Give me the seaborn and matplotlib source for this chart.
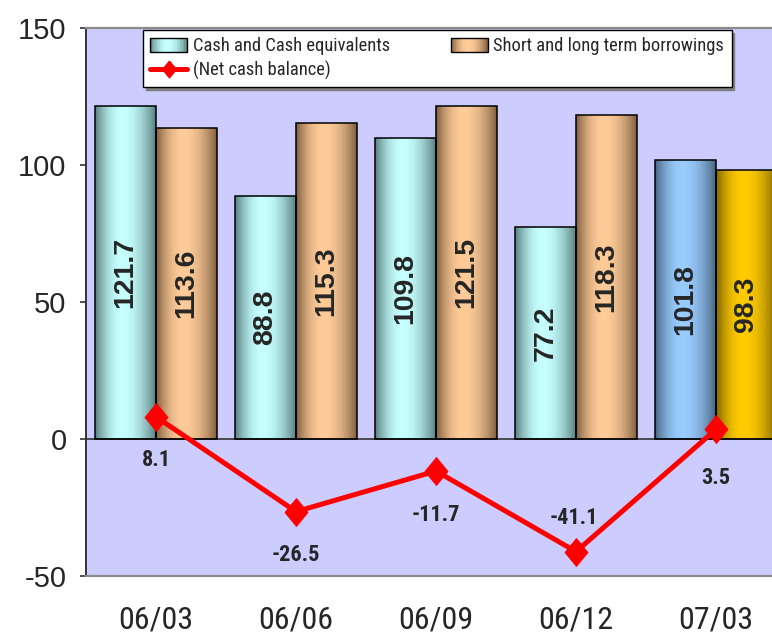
import numpy as np
import pandas as pd
import matplotlib
matplotlib.use("Agg")
import matplotlib.pyplot as plt
import seaborn as sns
from matplotlib.patches import Rectangle
from matplotlib.lines import Line2D
from matplotlib.legend_handler import HandlerBase

# ---- data -------------------------------------------------------------
periods = ["06/03", "06/06", "06/09", "06/12", "07/03"]
cash = [121.7, 88.8, 109.8, 77.2, 101.8]
borrowings = [113.6, 115.3, 121.5, 118.3, 98.3]
net_cash = [8.1, -26.5, -11.7, -41.1, 3.5]
y_ticks = [-50, 0, 50, 100, 150]

series_cash = "Cash and Cash equivalents"
series_debt = "Short and long term borrowings"
series_net = "(Net cash balance)"

# ---- styling ----------------------------------------------------------
sns.set_style("white")
plt.rcParams["font.family"] = ["Liberation Sans", "DejaVu Sans"]
plt.rcParams["axes.unicode_minus"] = False
NARROW = ["Roboto Condensed", "DejaVu Sans Condensed", "Liberation Sans Narrow",
          "Liberation Sans", "DejaVu Sans"]

# (dark edge, light centre) pairs for the cylinder shading
CASH_COLS = ("#557a7a", "#c6ffff")
DEBT_COLS = ("#7a5a3c", "#ffcc99")
CASH_LAST = ("#46607a", "#99ccff")
DEBT_LAST = ("#7a6000", "#ffcc00")
PLOT_BG = "#ccccff"


def shade_profile(n=96):
    u = (np.arange(n) + 0.5) / n
    s = np.where(u < 0.45, u / 0.45 * 0.5, 0.5 + (u - 0.45) / 0.55 * 0.5)
    return np.sin(np.pi * s) ** 0.85


def gradient_colors(dark, light, n=96):
    d = np.array(matplotlib.colors.to_rgb(dark))
    l = np.array(matplotlib.colors.to_rgb(light))
    b = shade_profile(n)[:, None]
    return d + (l - d) * b


class GradientHandler(HandlerBase):
    def __init__(self, dark, light):
        super().__init__()
        self.dark, self.light = dark, light

    def create_artists(self, legend, orig_handle, xdescent, ydescent,
                       width, height, fontsize, trans):
        n = 24
        cols = gradient_colors(self.dark, self.light, n)
        arts = []
        for i in range(n):
            arts.append(Rectangle((-xdescent + i * width / n, -ydescent),
                                  width / n + 0.3, height, facecolor=cols[i],
                                  edgecolor="none", transform=trans))
        arts.append(Rectangle((-xdescent, -ydescent), width, height,
                              fill=False, edgecolor="black", linewidth=1.0,
                              transform=trans))
        return arts


fig = plt.figure(figsize=(7.72, 6.39), dpi=100)
ax = fig.add_axes([86 / 772, 63 / 639, 700 / 772, 548 / 639])
ax.set_facecolor(PLOT_BG)

df = pd.DataFrame({
    "period": periods * 2,
    "value": cash + borrowings,
    "series": [series_cash] * len(periods) + [series_debt] * len(periods),
})

sns.barplot(data=df, x="period", y="value", hue="series", order=periods,
            hue_order=[series_cash, series_debt],
            palette=[CASH_COLS[1], DEBT_COLS[1]], saturation=1,
            width=0.871, gap=0, errorbar=None, edgecolor="black",
            linewidth=1.1, legend=False, ax=ax)

# cylinder-style shading on every bar
bars = sorted(ax.patches, key=lambda p: p.get_x())
for i, p in enumerate(bars):
    cat, ser = divmod(i, 2)
    if cat == len(periods) - 1:
        dark, light = (CASH_LAST, DEBT_LAST)[ser]
    else:
        dark, light = (CASH_COLS, DEBT_COLS)[ser]
    img = gradient_colors(dark, light)[None, :, :]
    x0, w = p.get_x(), p.get_width()
    y0, h = p.get_y(), p.get_height()
    im = ax.imshow(img, extent=[x0, x0 + w, min(y0, y0 + h), max(y0, y0 + h)],
                   aspect="auto", interpolation="bilinear",
                   zorder=p.get_zorder() - 0.05)
    im.set_clip_path(p)
    p.set_facecolor("none")
    p.set_zorder(1.5)

# value labels inside the bars
for i, p in enumerate(bars):
    cat, ser = divmod(i, 2)
    val = (cash, borrowings)[ser][cat]
    ax.text(p.get_x() + p.get_width() / 2, val / 2, f"{val}",
            rotation=90, ha="center", va="center", fontsize=20.5,
            fontweight="bold", zorder=2)

# net cash line
diamond = [(0, 1), (0.82, 0), (0, -1), (-0.82, 0), (0, 1)]
sns.lineplot(x=np.arange(len(periods)), y=net_cash, color="#ff0000",
             linewidth=3.6, marker=diamond, markersize=20,
             markeredgecolor="#ff0000", markerfacecolor="#ff0000",
             ax=ax, zorder=3, legend=False)

# net cash labels (offsets in pixels, positive = below the point)
label_offsets = [43, 43, 44, -34, 49]
for i, (v, off) in enumerate(zip(net_cash, label_offsets)):
    ax.annotate(f"{v}", (i, v), xytext=(-2 if off < 0 else 0, -off),
                textcoords="offset pixels", ha="center", va="center",
                fontsize=16, fontweight="bold", family=NARROW, zorder=4)

# axes
ax.axhline(0, color="#333333", linewidth=1.2, zorder=1.2)
ax.set_xlim(-0.5, len(periods) - 0.5)
ax.set_ylim(-50, 150)
ax.set_yticks(y_ticks)
ax.set_xlabel("")
ax.set_ylabel("")
ax.tick_params(axis="y", direction="out", length=4, width=1.2,
               color="#333333", labelsize=21, pad=10, left=True)
ax.tick_params(axis="x", length=0, pad=21)
for lab in ax.get_xticklabels():
    lab.set_family(NARROW)
    lab.set_fontsize(23)
for side in ("top", "right", "bottom"):
    ax.spines[side].set_color("#8a8a8a")
    ax.spines[side].set_linewidth(1.6)
ax.spines["left"].set_color("#333333")
ax.spines["left"].set_linewidth(1.4)

# legend
h_cash = Rectangle((0, 0), 1, 1)
h_debt = Rectangle((0, 0), 1, 1)
h_net = Line2D([], [], color="#ff0000", linewidth=3.6, marker=diamond,
               markersize=12, markeredgecolor="#ff0000")
leg = ax.legend([h_cash, h_net, h_debt], [series_cash, series_net, series_debt],
                ncol=2, loc="upper left",
                bbox_to_anchor=(143 / 772, 1 - 30 / 639),
                bbox_transform=fig.transFigure, borderaxespad=0,
                handler_map={h_cash: GradientHandler(*CASH_COLS),
                             h_debt: GradientHandler(*DEBT_COLS)},
                prop={"family": NARROW, "size": 13.3},
                frameon=True, fancybox=False, shadow={"color": "#7f7f7f", "alpha": 1},
                handlelength=2.0, handleheight=0.75, handletextpad=0.3,
                columnspacing=3.3, labelspacing=0.3, borderpad=0.4)
leg.get_frame().set_edgecolor("black")
leg.get_frame().set_linewidth(1.0)
leg.get_frame().set_alpha(1)
leg.set_zorder(10)

fig.savefig("out.png", dpi=100, facecolor="white")
